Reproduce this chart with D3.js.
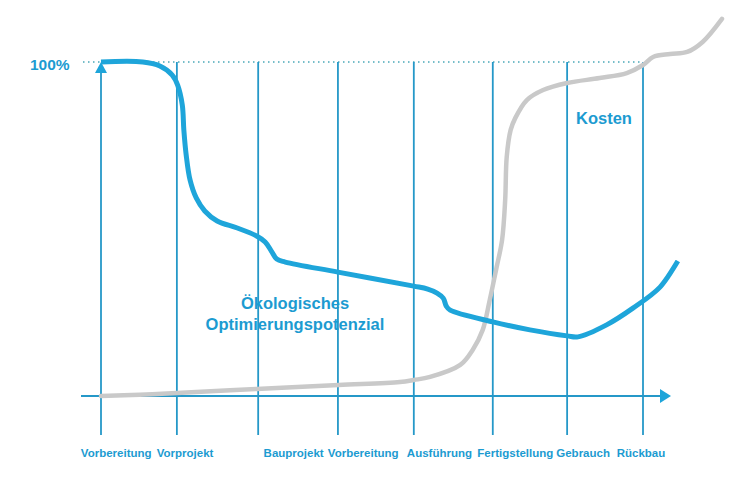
<!DOCTYPE html>
<html>
<head>
<meta charset="utf-8">
<script src="https://cdn.jsdelivr.net/npm/d3@7"></script>
<style>
  body { margin: 0; background: #fff; }
  svg { display: block; font-family: "Liberation Sans", Arial, sans-serif; font-weight: bold; }
</style>
</head>
<body>
<svg id="chart" width="750" height="499"></svg>
<script>
// phase boundaries (x in phase units, 0 = start)
const phaseLines = [0, 0.98, 2.03, 3.06, 4.04, 5.06, 6.02, 7.0];

// bottom labels and where each word starts (phase units)
const phaseLabels = ['Vorbereitung', 'Vorprojekt', 'Bauprojekt', 'Vorbereitung', 'Ausführung', 'Fertigstellung', 'Gebrauch', 'Rückbau'];
const phaseLabelX = [-0.26, 0.72, 2.1, 2.93, 3.95, 4.86, 5.88, 6.66];

// Ökologisches Optimierungspotenzial (%)
const ecoX = [0, 0.54, 0.76, 0.92, 0.99, 1.05, 1.07, 1.10, 1.15, 1.23, 1.34, 1.50, 1.76, 2.01, 2.12, 2.20, 2.27, 2.38, 3.06, 4.04, 4.22, 4.34, 4.42, 4.46, 4.51, 5.06, 5.54, 6.02, 6.16, 6.53, 6.87, 7.22, 7.45];
const ecoY = [100, 100, 98.8, 96.1, 93.1, 87.1, 79.6, 72.2, 64.7, 59.3, 55.4, 52.4, 50.3, 47.9, 46.1, 43.4, 41.0, 40.1, 37.1, 32.9, 32.0, 30.8, 29.3, 26.9, 25.7, 22.2, 19.8, 18.0, 17.7, 21.3, 26.3, 32.6, 40.4];

// Kosten (%)
const costX = [0, 0.50, 0.98, 2.01, 3.07, 3.86, 4.04, 4.25, 4.64, 4.80, 4.93, 5.02, 5.11, 5.18, 5.22, 5.24, 5.29, 5.35, 5.50, 5.71, 6.02, 6.44, 6.79, 7.0, 7.13, 7.35, 7.57, 7.77, 8.02];
const costY = [0, 0.4, 0.9, 2.1, 3.3, 4.2, 4.8, 5.7, 9.3, 13.8, 19.8, 28.7, 38.6, 46.7, 58.7, 71.6, 79.6, 83.2, 88.6, 91.6, 93.7, 95.2, 96.7, 99.1, 101.5, 102.4, 103.0, 106.0, 112.9];

const blue = '#1ea5da';
const gridBlue = '#2598c8';
const textBlue = '#1c9bd1';
const grey = '#c9c9c9';

const svg = d3.select('#chart');

const x = d3.scaleLinear().domain([0, 7]).range([101, 643]);
const y = d3.scaleLinear().domain([0, 100]).range([396, 62]);

// 100% dotted reference line
svg.append('line')
  .attr('x1', 83).attr('x2', x(7))
  .attr('y1', y(100)).attr('y2', y(100))
  .attr('stroke', '#4aa8b8')
  .attr('stroke-width', 1.6)
  .attr('stroke-dasharray', '1.5,3.5');

// vertical phase lines
svg.selectAll('.vline')
  .data(phaseLines)
  .enter().append('line')
  .attr('class', 'vline')
  .attr('x1', d => x(d)).attr('x2', d => x(d))
  .attr('y1', (d, i) => i === 0 ? y(100) + 8 : y(100))
  .attr('y2', 435)
  .attr('stroke', gridBlue)
  .attr('stroke-width', 1.8);

// y axis arrow head
svg.append('path')
  .attr('d', `M${x(0) - 6},${y(100) + 11} L${x(0)},${y(100)} L${x(0) + 6},${y(100) + 11} Z`)
  .attr('fill', blue);

// x axis with arrow
svg.append('line')
  .attr('x1', 81).attr('x2', 664)
  .attr('y1', y(0)).attr('y2', y(0))
  .attr('stroke', gridBlue)
  .attr('stroke-width', 2);
svg.append('path')
  .attr('d', `M660,${y(0) - 7} L671,${y(0)} L660,${y(0) + 7} Z`)
  .attr('fill', blue);

const line = d3.line()
  .x(d => x(d[0]))
  .y(d => y(d[1]))
  .curve(d3.curveMonotoneX);

// Kosten
svg.append('path')
  .datum(d3.zip(costX, costY))
  .attr('d', d3.line().x(d => x(d[0])).y(d => y(d[1])).curve(d3.curveCatmullRom.alpha(0.5)))
  .attr('fill', 'none')
  .attr('stroke', grey)
  .attr('stroke-width', 4.5)
  .attr('stroke-linecap', 'round')
  .attr('stroke-linejoin', 'round');

// Ökologisches Optimierungspotenzial
svg.append('path')
  .datum(d3.zip(ecoX, ecoY))
  .attr('d', d3.line().x(d => x(d[0])).y(d => y(d[1])).curve(d3.curveCatmullRom.alpha(0.5)))
  .attr('fill', 'none')
  .attr('stroke', blue)
  .attr('stroke-width', 5)
  .attr('stroke-linejoin', 'round');

// texts
svg.append('text')
  .attr('x', 30).attr('y', 70)
  .attr('font-size', 15.5)
  .attr('fill', textBlue)
  .text('100%');

svg.append('text')
  .attr('x', 604).attr('y', 124)
  .attr('text-anchor', 'middle')
  .attr('font-size', 16.5)
  .attr('fill', textBlue)
  .text('Kosten');

svg.append('text')
  .attr('text-anchor', 'middle')
  .attr('font-size', 16.5)
  .attr('fill', textBlue)
  .selectAll('tspan')
  .data(['Ökologisches', 'Optimierungspotenzial'])
  .enter().append('tspan')
  .attr('x', 295)
  .attr('y', (d, i) => 309 + i * 21)
  .text(d => d);

svg.selectAll('.plabel')
  .data(phaseLabels)
  .enter().append('text')
  .attr('class', 'plabel')
  .attr('x', (d, i) => x(phaseLabelX[i]))
  .attr('y', 457)
  .attr('font-size', 11.5)
  .attr('fill', textBlue)
  .text(d => d);
</script>
</body>
</html>
